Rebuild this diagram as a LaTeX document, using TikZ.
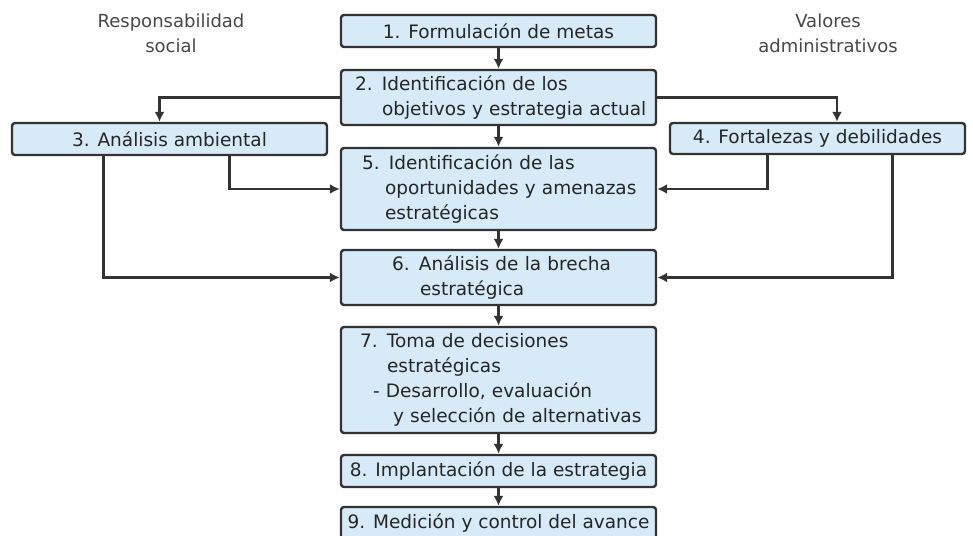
\documentclass[tikz,border=0pt]{standalone}
\usepackage{fontspec}
\setmainfont{DejaVu Sans}
\usepackage{xcolor}
\usetikzlibrary{arrows.meta}
\usetikzlibrary{positioning}
\definecolor{boxfill}{HTML}{D6EAF8}
\definecolor{boxline}{HTML}{333333}
\definecolor{boxtext}{HTML}{262626}

\begin{document}
\begin{tikzpicture}[x=1pt,y=-1pt,
  box/.style={draw=boxline, line width=2.4pt, fill=boxfill, rounded corners=3pt,
    minimum width=315pt, inner sep=0pt, text=boxtext,
    font=\fontsize{18.5}{25}\selectfont},
  boxleft/.style={box, text width=315pt, align=left},
  sidelabel/.style={text=boxtext!85, align=center, font=\fontsize{18}{25}\selectfont},
  arr/.style={draw=boxline, line width=2.4pt, -{Latex[length=10pt,width=10pt]}}]
\useasboundingbox (0,0) rectangle (973,535);
\node[box, minimum height=32pt] (b1) at (498.5,31) {1. Formulación de metas};
\node[boxleft, minimum height=55pt] (b2) at (498.5,97.5)
  {\hspace*{14pt}2. Identificación de los\\\hspace*{41pt}objetivos y estrategia actual};
\node[box, minimum height=32pt] (b3) at (169.5,139) {3. Análisis ambiental};
\node[box, minimum height=31pt, minimum width=295pt] (b4) at (817.5,138.5) {4. Fortalezas y debilidades};
\node[boxleft, minimum height=82pt] (b5) at (498.5,189)
  {\hspace*{21pt}5. Identificación de las\\\hspace*{44pt}oportunidades y amenazas\\\hspace*{44pt}estratégicas};
\node[boxleft, minimum height=55pt] (b6) at (498.5,277.5)
  {\hspace*{51pt}6. Análisis de la brecha\\\hspace*{79pt}estratégica};
\node[boxleft, minimum height=106pt] (b7) at (498.5,380)
  {\hspace*{19pt}7. Toma de decisiones\\\hspace*{46pt}estratégicas\\\hspace*{32pt}- Desarrollo, evaluación\\\hspace*{52pt}y selección de alternativas};
\node[box, minimum height=32pt] (b8) at (498.5,471) {8. Implantación de la estrategia};
\node[box, minimum height=32pt] (b9) at (498.5,523) {9. Medición y control del avance};
\node[sidelabel] (social) at (171,33) {Responsabilidad\\social};
\node[sidelabel] (valores) at (828,33) {Valores\\administrativos};
\draw[arr] (b1.south) -- (b2.north);
\draw[arr] (b2.south) -- (b5.north);
\draw[arr] (b5.south) -- (b6.north);
\draw[arr] (b6.south) -- (b7.north);
\draw[arr] (b7.south) -- (b8.north);
\draw[arr] (b8.south) -- (b9.north);
\draw[arr] (b2.west) -| ([xshift=-10pt]b3.north);
\draw[arr] (b2.east) -| ([xshift=19.5pt]b4.north);
\draw[arr] ([xshift=60pt]b3.south) |- (b5.west);
\draw[arr] ([xshift=-66pt]b3.south) |- (b6.west);
\draw[arr] ([xshift=-50pt]b4.south) |- (b5.east);
\draw[arr] ([xshift=75pt]b4.south) |- (b6.east);
\end{tikzpicture}
\end{document}
